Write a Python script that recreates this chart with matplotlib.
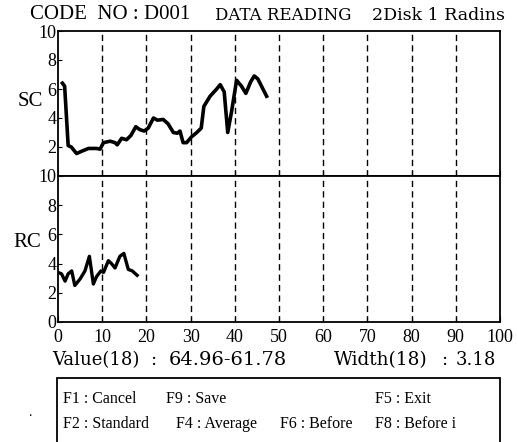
import matplotlib
matplotlib.use('Agg')
import matplotlib.pyplot as plt

plt.rcParams['font.family'] = ['Liberation Serif', 'DejaVu Serif']

# SC trace (upper panel)
sc_x = [1.0, 1.5, 2.3, 3.0, 4.2, 5.3, 6.9, 8.7, 9.5, 10.3, 11.8, 12.9, 13.4, 14.4,
        15.5, 16.5, 17.6, 18.5, 19.5, 20.4, 21.6, 22.5, 23.8, 24.9, 26.1, 27.0,
        27.6, 28.3, 29.1, 30.2, 31.4, 32.4, 33.0, 34.4, 35.9, 36.7, 37.6, 38.4,
        39.3, 40.4, 41.5, 42.5, 43.6, 44.4, 45.2, 46.2, 47.2]
sc_y = [6.4, 6.2, 2.1, 2.0, 1.55, 1.7, 1.9, 1.9, 1.85, 2.3, 2.4, 2.3, 2.15, 2.6,
        2.5, 2.8, 3.4, 3.2, 3.1, 3.3, 4.0, 3.85, 3.9, 3.6, 3.0, 2.95,
        3.1, 2.3, 2.3, 2.7, 3.0, 3.3, 4.8, 5.5, 6.0, 6.3, 5.8, 3.0,
        4.5, 6.6, 6.2, 5.7, 6.5, 6.9, 6.7, 6.1, 5.5]

# RC trace (lower panel)
rc_x = [0.0, 0.8, 1.6, 2.3, 3.1, 3.8, 5.0, 6.1, 7.1, 8.0, 8.7, 9.7, 10.3, 11.4,
        12.1, 12.9, 14.0, 14.9, 15.9, 16.8, 17.9]
rc_y = [3.4, 3.3, 2.8, 3.3, 3.5, 2.5, 2.95, 3.5, 4.5, 2.6, 3.1, 3.5, 3.4, 4.2,
        4.0, 3.7, 4.5, 4.7, 3.6, 3.5, 3.2]

x_ticks = [0, 10, 20, 30, 40, 50, 60, 70, 80, 90, 100]
grid_x = [10, 20, 30, 40, 50, 60, 70, 80, 90]

W, H = 518, 442
wide = ['DejaVu Serif']


def px(x, y):
    return x / W, 1 - y / H


fig = plt.figure(figsize=(W / 100, H / 100), dpi=100)
ax1 = fig.add_axes([58 / W, 1 - 176 / H, 442 / W, 145 / H])
ax2 = fig.add_axes([58 / W, 1 - 322 / H, 442 / W, 146 / H])

for ax in (ax1, ax2):
    ax.set_xlim(0, 100)
    ax.set_ylim(0, 10)
    for g in grid_x:
        ax.axvline(g, color='black', lw=1.0, ls=(0, (4.5, 3)))
    for s in ax.spines.values():
        s.set_linewidth(1.3)
    ax.tick_params(axis='y', length=3, direction='in', labelsize=13, pad=1)
    ax.tick_params(axis='x', length=4, direction='in', labelsize=13, pad=5)

ax1.plot(sc_x, sc_y, color='black', lw=2.6)
ax2.plot(rc_x, rc_y, color='black', lw=2.4)

ax1.set_yticks([2, 4, 6, 8, 10])
ax1.set_xticks(x_ticks)
ax1.tick_params(axis='x', labelbottom=False)
ax2.set_yticks([0, 2, 4, 6, 8, 10])
ax2.set_xticks(x_ticks)

fig.text(*px(30, 101), 'SC', fontsize=15, ha='center', va='center')
fig.text(*px(27, 242), 'RC', fontsize=15, ha='center', va='center')

# header
fig.text(*px(30, 19), 'CODE  NO : D001', fontsize=15, ha='left', va='baseline')
fig.text(*px(215, 20), 'DATA READING', fontsize=12, family=wide,
         ha='left', va='baseline')
fig.text(*px(372, 20), '2Disk 1 Radins', fontsize=12.5, family=wide,
         ha='left', va='baseline')

# readout line
fig.text(*px(52, 365), 'Value(18)', fontsize=13, family=wide, ha='left', va='baseline')
fig.text(*px(150, 365), ':', fontsize=13, family=wide, ha='left', va='baseline')
fig.text(*px(169, 365), '64.96-61.78', fontsize=14, family=wide, ha='left', va='baseline')
fig.text(*px(334, 365), 'Width(18)', fontsize=13.3, family=wide, ha='left', va='baseline')
fig.text(*px(441, 365), ':', fontsize=13, family=wide, ha='left', va='baseline')
fig.text(*px(456, 365), '3.18', fontsize=13, family=wide, ha='left', va='baseline')

# function key box
box = plt.Rectangle(px(57, 460), 443 / W, 82 / H, transform=fig.transFigure,
                    fill=False, edgecolor='black', lw=1.3, clip_on=False)
fig.add_artist(box)
keys_row1 = [(63, 'F1 : Cancel'), (166, 'F9 : Save'), (375, 'F5 : Exit')]
keys_row2 = [(63, 'F2 : Standard'), (176, 'F4 : Average'), (280, 'F6 : Before'),
             (375, 'F8 : Before i')]
for x, t in keys_row1:
    fig.text(*px(x, 403), t, fontsize=11.5, ha='left', va='baseline')
for x, t in keys_row2:
    fig.text(*px(x, 428), t, fontsize=11.5, ha='left', va='baseline')
fig.text(*px(30, 412), '.', fontsize=10, ha='center', va='center')

fig.savefig('out.png', dpi=100)
